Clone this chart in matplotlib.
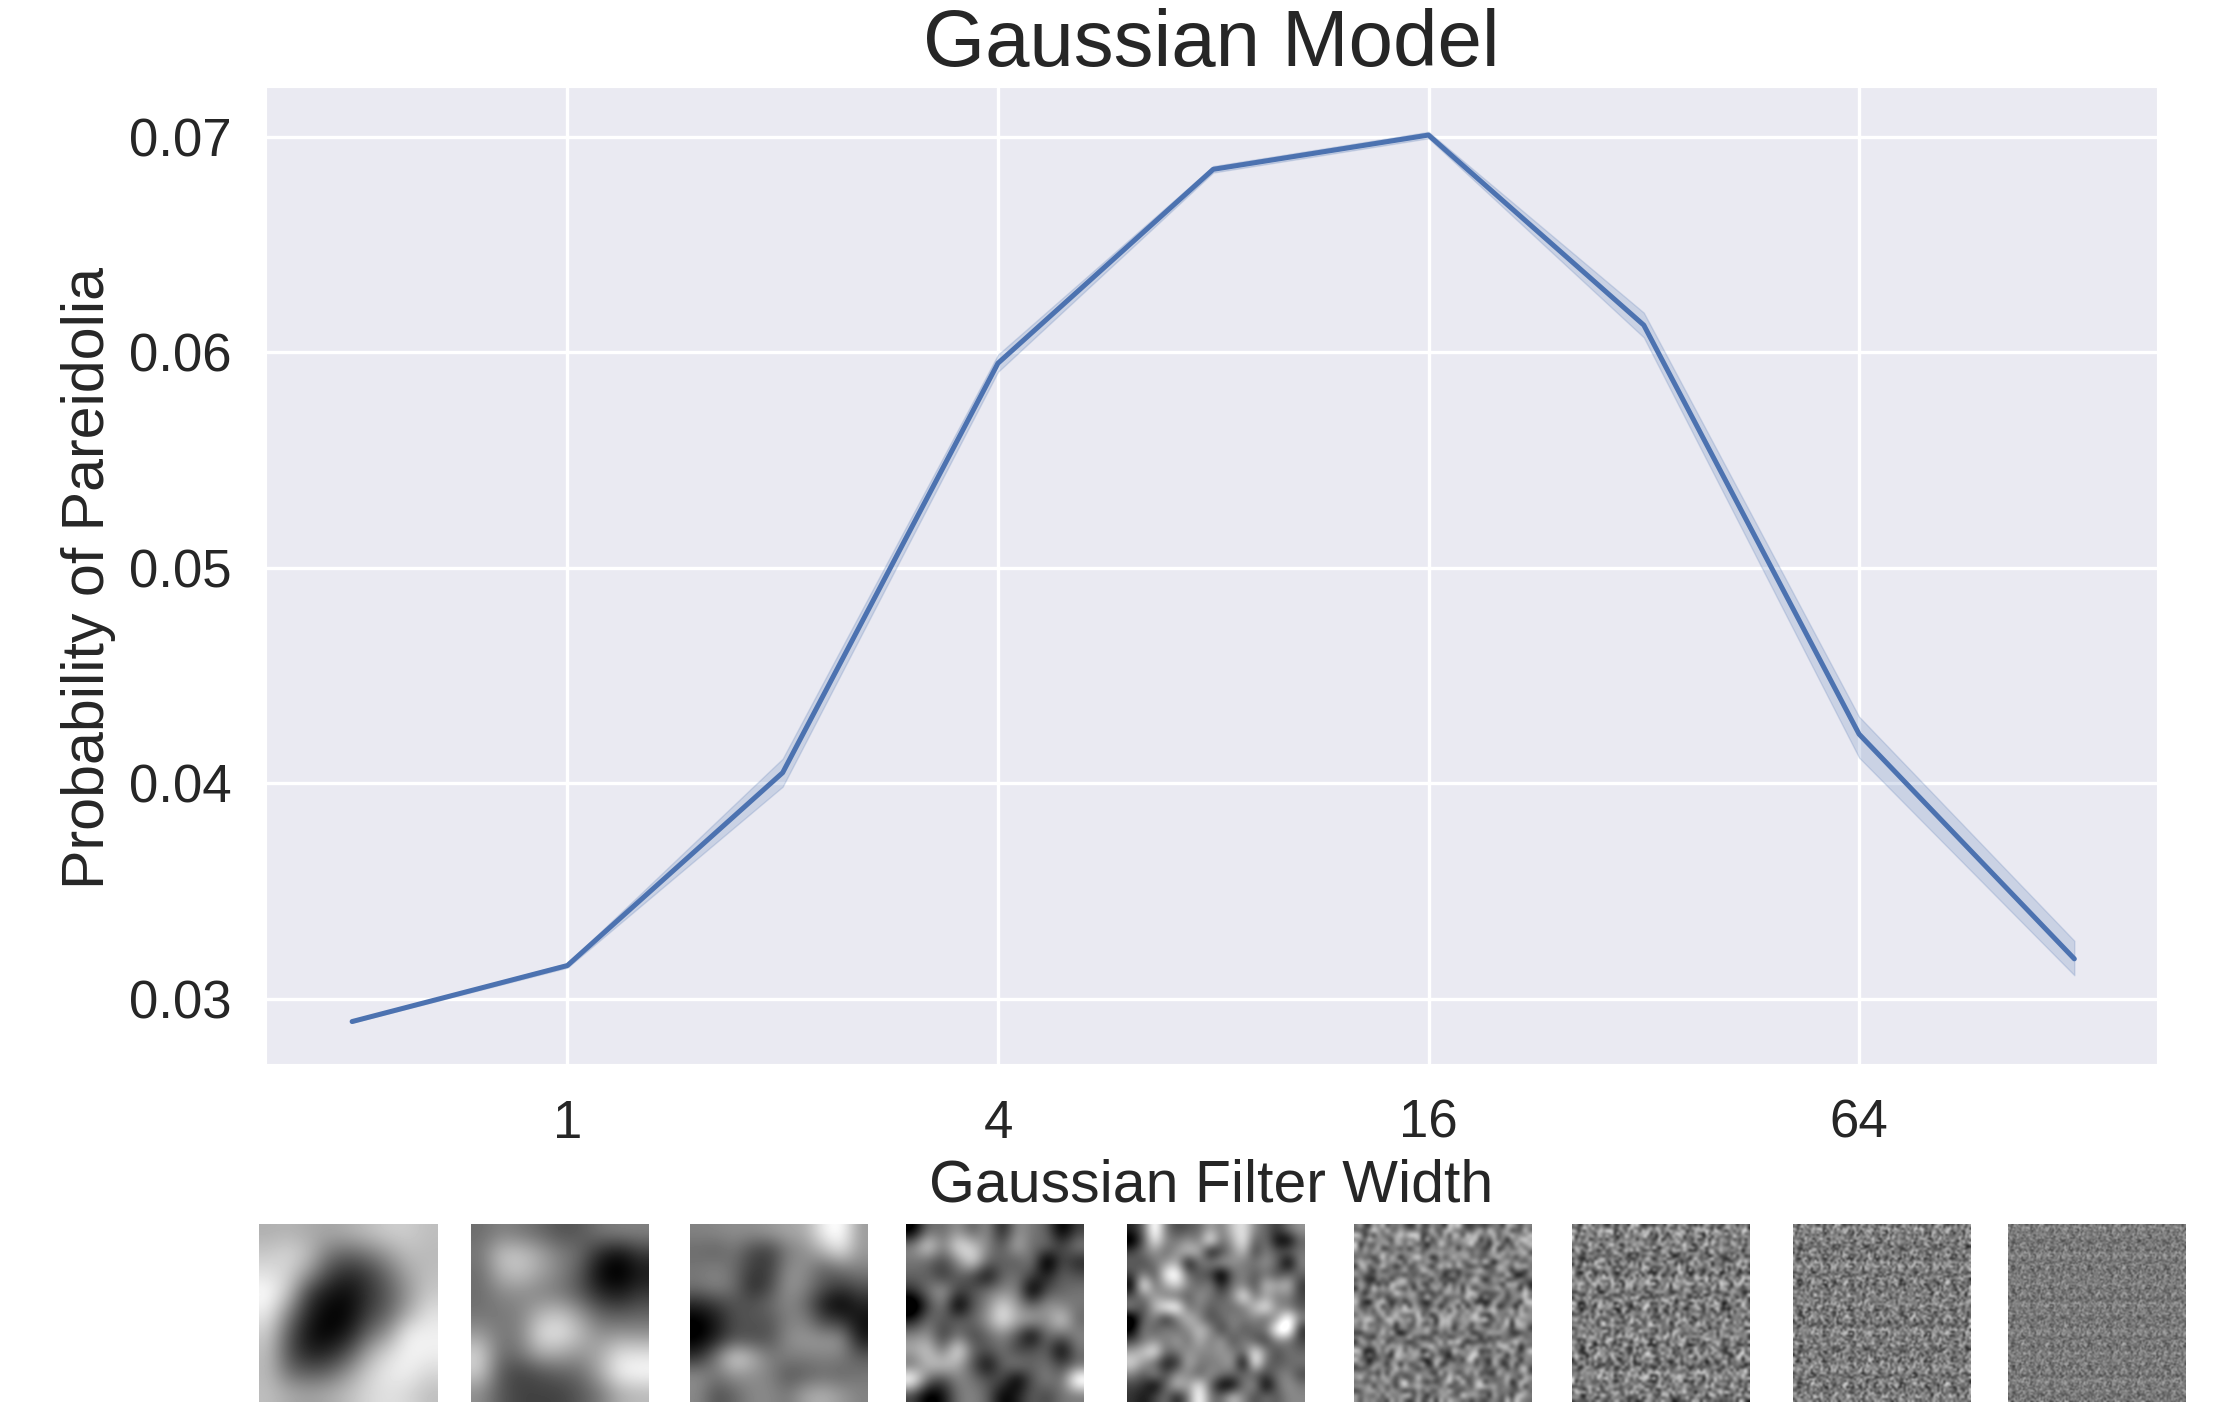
import numpy as np
import matplotlib
matplotlib.use("Agg")
import matplotlib.pyplot as plt
import seaborn as sns

# values
filter_widths = [0.5, 1, 2, 4, 8, 16, 32, 64, 128]
prob_mean = [0.02895, 0.03155, 0.0405, 0.0595, 0.0685, 0.07009, 0.06127, 0.04229, 0.03186]
prob_upper = [0.0290, 0.03165, 0.04115, 0.0599, 0.06865, 0.07024, 0.06185, 0.0431, 0.0327]
prob_lower = [0.0289, 0.03145, 0.03985, 0.0591, 0.06835, 0.06994, 0.0607, 0.0412, 0.0311]
x_ticks = [1, 4, 16, 64]
y_ticks = [0.03, 0.04, 0.05, 0.06, 0.07]

# thumbnails, coarse gray levels
thumb_1 = [
    [175, 180, 170, 165, 175, 190, 205, 205, 190],
    [200, 215, 190, 120, 100, 120, 155, 190, 185],
    [225, 210, 150, 70, 40, 60, 110, 165, 190],
    [255, 195, 60, 20, 10, 50, 90, 150, 200],
    [235, 130, 35, 0, 5, 60, 100, 170, 225],
    [205, 90, 15, 0, 25, 100, 150, 240, 240],
    [190, 80, 30, 35, 80, 165, 215, 245, 240],
    [185, 110, 90, 100, 150, 205, 235, 240, 215],
    [190, 170, 160, 170, 190, 215, 225, 215, 190],
]
thumb_2 = [
    [110, 130, 120, 105, 85, 90, 120, 130, 130],
    [120, 190, 195, 165, 130, 110, 45, 15, 60],
    [110, 175, 190, 160, 130, 90, 15, 0, 30],
    [110, 135, 140, 130, 120, 90, 45, 30, 60],
    [115, 120, 130, 175, 190, 150, 100, 90, 100],
    [150, 120, 130, 215, 225, 185, 140, 145, 140],
    [205, 110, 120, 175, 170, 150, 165, 215, 215],
    [200, 90, 70, 85, 100, 110, 165, 235, 245],
    [140, 90, 70, 70, 70, 90, 120, 170, 180],
]
thumb_3 = [
    [130, 135, 140, 140, 150, 160, 165, 225, 245, 150],
    [110, 100, 120, 80, 70, 125, 140, 175, 215, 150],
    [120, 130, 110, 70, 70, 140, 140, 100, 120, 130],
    [120, 135, 115, 50, 80, 150, 130, 90, 70, 90],
    [50, 70, 90, 90, 110, 135, 110, 40, 15, 50],
    [10, 40, 85, 90, 90, 130, 130, 80, 70, 30],
    [15, 50, 90, 85, 90, 140, 150, 150, 150, 40],
    [60, 130, 210, 175, 125, 125, 125, 130, 125, 100],
    [140, 120, 145, 140, 130, 90, 100, 110, 105, 120],
    [135, 85, 105, 135, 135, 120, 160, 170, 150, 130],
]
thumb_4 = [
    [40, 120, 110, 140, 100, 140, 60, 140, 120, 110, 40, 90],
    [130, 190, 120, 190, 170, 130, 100, 160, 110, 120, 90, 130],
    [120, 110, 90, 130, 190, 110, 110, 100, 130, 20, 100, 70],
    [110, 110, 80, 110, 90, 50, 110, 120, 90, 70, 110, 100],
    [80, 120, 150, 90, 100, 120, 130, 130, 30, 100, 110, 120],
    [15, 90, 130, 30, 100, 130, 180, 140, 110, 140, 130, 120],
    [70, 120, 100, 110, 110, 140, 190, 150, 150, 130, 180, 110],
    [130, 140, 80, 120, 90, 110, 130, 100, 40, 120, 110, 130],
    [150, 170, 110, 200, 110, 100, 120, 90, 100, 110, 40, 120],
    [110, 160, 170, 150, 100, 50, 110, 130, 110, 120, 90, 110],
    [220, 110, 90, 130, 120, 100, 100, 40, 100, 130, 110, 230],
    [90, 40, 60, 120, 130, 110, 50, 70, 110, 90, 120, 120],
]
thumb_5 = [
    [70, 110, 230, 120, 90, 100, 110, 150, 120, 170, 190, 130, 110, 80, 120, 140],
    [30, 100, 200, 130, 120, 140, 120, 215, 110, 150, 200, 100, 120, 50, 40, 110],
    [90, 120, 140, 110, 140, 170, 160, 40, 90, 130, 170, 80, 130, 100, 110, 120],
    [110, 90, 120, 140, 160, 40, 120, 130, 150, 140, 120, 120, 140, 110, 30, 130],
    [90, 130, 90, 200, 220, 110, 100, 90, 20, 110, 130, 100, 120, 90, 110, 110],
    [40, 225, 110, 150, 180, 130, 110, 130, 60, 120, 130, 90, 170, 150, 170, 80],
    [100, 120, 150, 120, 110, 100, 140, 120, 100, 130, 210, 110, 150, 120, 130, 90],
    [130, 90, 160, 210, 220, 110, 130, 100, 120, 110, 120, 170, 200, 130, 120, 100],
    [20, 110, 130, 60, 120, 170, 130, 90, 110, 130, 120, 130, 110, 140, 230, 130],
    [40, 130, 100, 130, 110, 130, 170, 140, 80, 130, 100, 110, 120, 220, 240, 70],
    [90, 120, 140, 120, 150, 110, 160, 120, 150, 90, 130, 100, 80, 130, 120, 90],
    [150, 170, 200, 110, 120, 140, 130, 130, 140, 130, 110, 200, 130, 90, 120, 110],
    [180, 140, 110, 60, 70, 160, 120, 120, 130, 150, 20, 220, 110, 100, 110, 120],
    [130, 100, 140, 90, 140, 130, 100, 140, 120, 110, 120, 100, 90, 120, 130, 90],
    [90, 80, 40, 110, 170, 140, 200, 110, 40, 40, 120, 140, 30, 110, 140, 120],
    [80, 60, 90, 120, 60, 120, 220, 120, 110, 170, 130, 90, 120, 100, 130, 130],
]
# gray range each coarse thumbnail is stretched over, bicubic flattens the peaks
thumb_range = [(0, 255), (10, 245), (20, 235), (55, 195), (50, 200)]

# the four finest thumbnails are too fine to read cell by cell, so their grain
# is only a look-alike: these two typed patches shuffled together, not the
# original pixels
grain_a = [
    [3, -7, 5, -2, 8, -5, 1, -8, 6, -3, 4, -9, 2, 7, -4, 0, 5],
    [-6, 2, -8, 7, -1, 4, -9, 5, -2, 8, -6, 3, -5, 1, 9, -7, -1],
    [8, -4, 1, -5, 6, -8, 3, -1, 7, -6, 2, 5, -8, -3, 4, 6, -9],
    [-2, 6, -9, 3, -7, 2, 8, -4, -5, 1, -7, 9, 0, -6, 3, -4, 7],
    [5, -1, 7, -6, 4, -3, -7, 6, 2, -9, 5, -2, 8, 4, -8, 1, -5],
    [-8, 3, -4, 9, -2, 7, 1, -6, 4, 3, -8, 6, -3, -7, 5, 2, -1],
    [1, 7, -3, -8, 5, 0, -5, 8, -7, 6, -1, -4, 7, 2, -9, 8, -3],
    [6, -9, 4, 2, -6, 8, -2, 3, -4, -8, 9, 1, -5, 6, -1, -7, 4],
    [-3, 5, -7, 6, 1, -9, 7, -5, 9, 2, -3, -6, 4, -8, 3, 5, -6],
    [7, -2, 9, -4, -8, 3, 5, -1, -7, 4, 8, -5, 1, 6, -2, -9, 2],
    [-5, 8, -1, 3, 7, -6, -3, 9, 1, -6, -2, 7, -9, 3, 5, 0, -7],
    [2, -6, 5, -9, 4, 1, -8, -2, 6, 8, -4, 3, 5, -7, -1, 9, -3],
    [9, 0, -8, 5, -3, 6, 4, -7, 3, -5, 7, -9, 2, 8, -6, -2, 4],
    [-7, 4, 3, -1, 8, -5, -9, 2, -8, 5, 1, 6, -4, -2, 7, 3, -8],
    [4, -5, 6, 7, -9, 2, 6, -3, 8, -1, -7, 3, 9, -5, 0, -6, 5],
    [-1, 9, -6, -3, 1, -7, 5, 7, -4, -8, 6, -2, -6, 4, 8, -3, 2],
    [-9, 1, 7, -5, 3, 9, -4, -6, 5, 2, -1, 8, -7, 1, -5, 6, -2],
]
grain_b = [
    [-4, 6, -1, 8, -7, 3, 5, -9, 2, 7, -3, -6, 4],
    [7, -8, 3, -5, 2, -2, 9, 1, -6, -4, 8, 0, -7],
    [-2, 4, 9, -6, -3, 7, -7, 5, 3, -1, -9, 6, 2],
    [5, -7, -3, 1, 8, -9, 4, -2, -8, 9, 2, -5, -1],
    [-9, 2, 6, -4, 5, 1, -6, 7, 0, -3, 6, -8, 8],
    [3, 8, -5, 7, -1, -4, 2, -7, 9, 5, -2, 4, -6],
    [-6, 0, 1, -8, 9, -5, 6, 3, -4, -7, 7, -3, 5],
    [8, -3, -7, 4, -2, 6, -8, -1, 5, 2, -5, 9, -4],
    [1, 5, -9, 2, 7, -6, 3, 8, -3, -8, 4, -1, 6],
    [-5, 9, 4, -7, -4, 0, 1, -5, 7, 6, -9, 3, -2],
    [6, -1, -6, 3, 5, 8, -9, 2, -2, -4, 1, 7, -8],
    [-8, 7, 2, -2, -5, 4, -3, 9, 6, -7, 3, -4, 1],
    [2, -4, 5, 9, -8, -1, 7, -6, 1, 4, -5, 8, -3],
]

# width in cells and spread of the fine thumbnails
grain_cells = [40, 64, 90, 120]
grain_spread = [7.0, 7.0, 6.0, 4.0]

# layout in pixels of the reference
FIG_W, FIG_H = 2223, 1402
AX_BOX = (266, 87, 2157, 1064)
THUMB_LEFT = [259, 471, 690, 906, 1127, 1354, 1572, 1793, 2008]
THUMB_TOP, THUMB_SIZE = 1224, 178


def px_rect(left, top, right, bottom):
    return [left / FIG_W, 1 - bottom / FIG_H, (right - left) / FIG_W, (bottom - top) / FIG_H]


def grain_image(n, spread):
    a = np.array(grain_a)
    b = np.array(grain_b)
    i, j = np.indices((n, n))
    mixed = a[(5 * i + j * j) % 17, (7 * j + i * i) % 17] + b[(3 * i + j * j) % 13, (4 * j + i * i) % 13]
    return 120 + spread * mixed


sns.set_style("darkgrid")
plt.rcParams["font.family"] = ["Liberation Sans", "DejaVu Sans"]
plt.rcParams["text.color"] = ".15"

fig = plt.figure(figsize=(FIG_W / 100, FIG_H / 100), dpi=100)
ax = fig.add_axes(px_rect(*AX_BOX))

ax.fill_between(filter_widths, prob_lower, prob_upper, color="#4c72b0", alpha=0.2)
ax.plot(filter_widths, prob_mean, color="#4c72b0", linewidth=3.6)

ax.set_xscale("log", base=2)
ax.set_xlim(2 ** -1.4, 2 ** 7.384)
ax.set_ylim(0.02698, 0.07232)
ax.set_xticks(x_ticks)
ax.set_xticklabels([str(t) for t in x_ticks])
ax.minorticks_off()
ax.set_yticks(y_ticks)
ax.set_yticklabels(["%.2f" % t for t in y_ticks])
ax.grid(True, color="white", linewidth=2.4)
ax.tick_params(axis="both", labelsize=38, labelcolor=".15", length=0, pad=25)

ax.set_title("Gaussian Model", fontsize=57.5, pad=15)
ax.set_xlabel("Gaussian Filter Width", fontsize=42.5, labelpad=7)
ax.set_ylabel("Probability of Pareidolia", fontsize=42.6, labelpad=9, y=0.497)

thumbs = [thumb_1, thumb_2, thumb_3, thumb_4, thumb_5]
for n, spread in zip(grain_cells, grain_spread):
    thumbs.append(grain_image(n, spread))
ranges = thumb_range + [(0, 255)] * len(grain_cells)

for i in range(len(thumbs)):
    left = THUMB_LEFT[i]
    tax = fig.add_axes(px_rect(left, THUMB_TOP, left + THUMB_SIZE, THUMB_TOP + THUMB_SIZE))
    tax.imshow(thumbs[i], cmap="gray", vmin=ranges[i][0], vmax=ranges[i][1], interpolation="bicubic", aspect="auto")
    tax.axis("off")

fig.savefig("out.png", dpi=100)
